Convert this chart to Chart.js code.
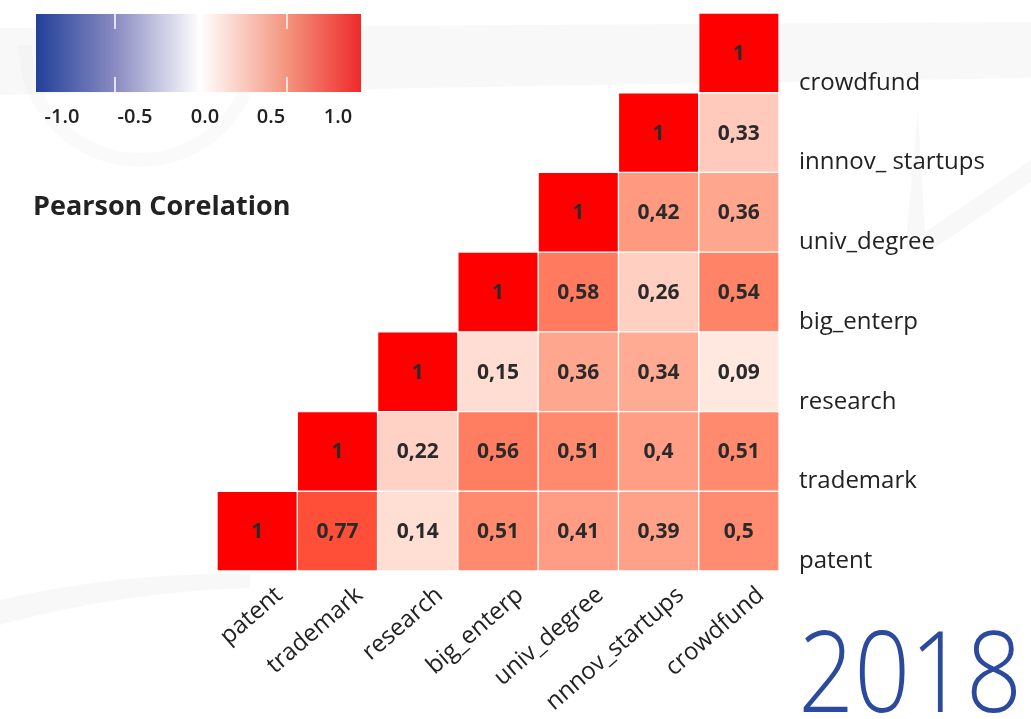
<!DOCTYPE html>
<html>
<head>
<meta charset="utf-8">
<script src="https://cdn.jsdelivr.net/npm/chart.js@4.4.1/dist/chart.umd.min.js"></script>
<style>
  html,body{margin:0;padding:0;background:#fff;}
  #wrap{position:relative;width:1031px;height:719px;}
</style>
</head>
<body>
<div id="wrap"><canvas id="c" width="1031" height="719"></canvas></div>
<script>
// ---- data ----
const xLabels = ['patent','trademark','research','big_enterp','univ_degree','nnnov_startups','crowdfund'];
const yLabels = ['patent','trademark','research','big_enterp','univ_degree','innnov_ startups','crowdfund'];
// rows (bottom -> top), values for columns from the diagonal to the right
const rowPatent     = [1, 0.77, 0.14, 0.51, 0.41, 0.39, 0.5];
const rowTrademark  = [1, 0.22, 0.56, 0.51, 0.4, 0.51];
const rowResearch   = [1, 0.15, 0.36, 0.34, 0.09];
const rowBigEnterp  = [1, 0.58, 0.26, 0.54];
const rowUnivDegree = [1, 0.42, 0.36];
const rowInnov      = [1, 0.33];
const rowCrowdfund  = [1];
const rows = [rowPatent,rowTrademark,rowResearch,rowBigEnterp,rowUnivDegree,rowInnov,rowCrowdfund];
const legendTicks = ['-1.0','-0.5','0.0','0.5','1.0'];
const legendTitle = 'Pearson Corelation';
const yearLabel = '2018';

// ---- colour scale ----
const stops = [[0,'#ffffff'],[0.1,'#ffe5dc'],[0.2,'#ffd4c7'],[0.33,'#ffcabb'],[0.34,'#ffab93'],[0.36,'#ffa68e'],[0.42,'#ff9a81'],[0.5,'#ff8c70'],[0.58,'#ff7a5e'],[0.77,'#ff4f38'],[1,'#ff0000']];
function hex2rgb(h){return [parseInt(h.slice(1,3),16),parseInt(h.slice(3,5),16),parseInt(h.slice(5,7),16)];}
function colorFor(v){
  for(let i=1;i<stops.length;i++){
    if(v<=stops[i][0]){
      const [a,ca]=stops[i-1],[b,cb]=stops[i];
      const t=(v-a)/(b-a), A=hex2rgb(ca), B=hex2rgb(cb);
      return 'rgb('+A.map((x,k)=>Math.round(x+(B[k]-x)*t)).join(',')+')';
    }
  }
  return stops[stops.length-1][1];
}

const datasets = rows.map((vals,r)=>{
  const data = xLabels.map((_,c)=> c>=r ? [r-0.5, r+0.5] : null);
  const values = xLabels.map((_,c)=> c>=r ? vals[c-r] : null);
  return {
    data, values,
    backgroundColor: values.map(v=> v==null ? 'rgba(0,0,0,0)' : colorFor(v)),
    borderColor:'#ffffff', borderWidth:1, borderSkipped:false,
    barPercentage:1, categoryPercentage:1, grouped:false
  };
});

const FONT = "'Open Sans', 'Noto Sans', sans-serif";

const bgPlugin = {
  id:'bg',
  beforeDraw(chart){
    const ctx=chart.ctx;
    ctx.save();
    ctx.fillStyle='rgba(0,0,0,0.028)';
    // top band
    ctx.beginPath();
    ctx.moveTo(0,28); ctx.lineTo(1031,22); ctx.lineTo(1031,78); ctx.lineTo(0,95); ctx.closePath(); ctx.fill();
    // bowl behind legend
    ctx.fillStyle='rgba(0,0,0,0.02)';
    ctx.beginPath();
    ctx.arc(140,45,122,0,Math.PI,false);
    ctx.arc(140,45,108,Math.PI,0,true);
    ctx.closePath(); ctx.fill();
    // right V
    ctx.fillStyle='rgba(0,0,0,0.028)';
    ctx.beginPath();
    ctx.moveTo(918,110); ctx.lineTo(925,232); ctx.lineTo(1031,160); ctx.lineTo(1031,182); ctx.lineTo(932,250); ctx.lineTo(905,250); ctx.closePath(); ctx.fill();
    // bottom-left swoosh
    ctx.beginPath();
    ctx.moveTo(0,600); ctx.quadraticCurveTo(120,572,250,574); ctx.lineTo(250,588); ctx.quadraticCurveTo(120,592,0,625); ctx.closePath(); ctx.fill();
    ctx.restore();
  }
};

const overlayPlugin = {
  id:'overlay',
  afterDatasetsDraw(chart){
    const ctx=chart.ctx;
    ctx.save();
    ctx.font = "bold 21px "+FONT;
    ctx.fillStyle='#2a2a2a';
    ctx.textAlign='center'; ctx.textBaseline='middle';
    chart.data.datasets.forEach((ds,di)=>{
      const meta=chart.getDatasetMeta(di);
      meta.data.forEach((el,i)=>{
        const v=ds.values[i];
        if(v==null) return;
        const cy=(el.y+el.base)/2;
        ctx.fillText(String(v).replace('.',','), el.x, cy+1);
      });
    });
    ctx.restore();
  },
  afterDraw(chart){
    const ctx=chart.ctx;
    ctx.save();
    // colour bar
    const x0=36,x1=361,y0=14,y1=92;
    const g=ctx.createLinearGradient(x0,0,x1,0);
    g.addColorStop(0,'#22409a');
    g.addColorStop(0.25,'#8c8dc3');
    g.addColorStop(0.505,'#ffffff');
    g.addColorStop(0.77,'#f4957f');
    g.addColorStop(1,'#ee2a2a');
    ctx.fillStyle=g;
    ctx.fillRect(x0,y0,x1-x0,y1-y0);
    ctx.strokeStyle='#ffffff'; ctx.lineWidth=1.5;
    [115,200,287].forEach(x=>{
      ctx.beginPath(); ctx.moveTo(x,y0); ctx.lineTo(x,y0+15); ctx.stroke();
      ctx.beginPath(); ctx.moveTo(x,y1-15); ctx.lineTo(x,y1); ctx.stroke();
    });
    ctx.fillStyle='#222';
    ctx.font="600 20px "+FONT;
    ctx.textAlign='center'; ctx.textBaseline='middle';
    const lx=[62,135,205,271,338];
    legendTicks.forEach((t,i)=>ctx.fillText(t,lx[i],117));
    ctx.font="bold 27px "+FONT;
    ctx.textAlign='left'; ctx.textBaseline='alphabetic';
    ctx.fillText(legendTitle,33,215);
    // year
    ctx.font="350 112px "+FONT;
    ctx.fillStyle='#2b4a9e';
    ctx.textAlign='right';
    ctx.translate(1022,712);
    ctx.scale(0.875,1);
    ctx.fillText(yearLabel,0,0);
    ctx.restore();
  }
};

new Chart(document.getElementById('c'),{
  type:'bar',
  data:{labels:xLabels, datasets},
  options:{
    responsive:false, animation:false,
    layout:{padding:{left:217,top:13,right:0,bottom:0}},
    plugins:{legend:{display:false},tooltip:{enabled:false}},
    scales:{
      x:{
        type:'category', position:'bottom',
        grid:{display:false}, border:{display:false},
        afterFit(s){s.height=148; s.paddingLeft=0; s.paddingRight=0;},
        ticks:{color:'#222',font:{family:FONT,size:24},minRotation:41,maxRotation:41,padding:2,labelOffset:22,autoSkip:false}
      },
      y:{
        type:'linear', position:'right', min:-0.5, max:6.5,
        grid:{display:false}, border:{display:false},
        afterFit(s){s.width=252; s.paddingTop=0; s.paddingBottom=0;},
        afterBuildTicks(s){s.ticks=yLabels.map((_,i)=>({value:i}));},
        ticks:{color:'#222',font:{family:FONT,size:24},padding:12,labelOffset:30,
          callback:(v)=>yLabels[v]}
      }
    }
  },
  plugins:[bgPlugin,overlayPlugin]
});
</script>
</body>
</html>
